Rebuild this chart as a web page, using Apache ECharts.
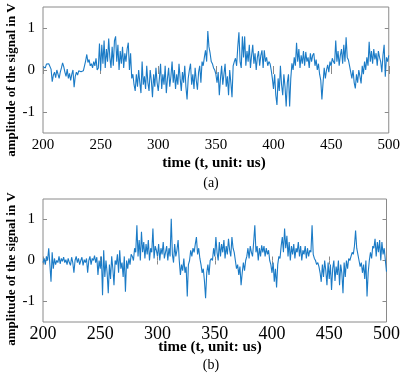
<!DOCTYPE html>
<html>
<head>
<meta charset="utf-8">
<script src="https://cdn.jsdelivr.net/npm/echarts@6/dist/echarts.min.js"></script>
<style>
  html, body { margin: 0; padding: 0; background: #fff; }
  #chart { width: 403px; height: 374px; }
</style>
</head>
<body>
<div id="chart"></div>
<script>
// time axis: 200..500 us, one sample per us
const tStart = 200;
const xTicks = [200, 250, 300, 350, 400, 450, 500];
const yTicks = [-1, 0, 1];

// signal (a)
const signalA = [
  0.08, 0.12, 0.05, 0.14, 0.1, 0.15, 0.12, 0.02, -0.28, -0.12,
  -0.05, -0.18, 0.0, -0.1, -0.2, -0.05, 0.05, 0.17, 0.08, -0.05,
  -0.15, 0.02, -0.2, -0.08, -0.25, -0.1, 0.0, -0.41, -0.15, -0.05,
  -0.12, -0.02, -0.05, -0.04, -0.06, -0.02, 0.1, 0.22, 0.37, 0.18,
  0.25, 0.1, 0.15, 0.05, 0.2, 0.1, 0.28, 0.0, 0.05, 0.63,
  -0.02, 0.6, 0.15, 0.7, 0.05, 0.5, 0.2, 0.75, 0.3, 0.05,
  0.55, 0.1, 0.7, 0.8, 0.2, 0.6, 0.0, 0.45, 0.15, 0.55,
  0.05, 0.4, 0.2, 0.5, 0.65, 0.0, 0.4, -0.2, -0.1, -0.35,
  -0.5, -0.1, -0.4, 0.0, -0.3, -0.55, 0.2, -0.35, -0.15, -0.45,
  0.1, -0.3, -0.5, 0.0, -0.25, -0.65, -0.1, -0.4, 0.05, -0.3,
  -0.5, -0.2, 0.15, -0.45, -0.1, -0.35, 0.1, -0.55, -0.2, 0.05,
  -0.4, -0.15, 0.2, -0.3, 0.0, -0.45, -0.1, -0.35, 0.15, -0.2,
  -0.5, -0.05, -0.3, 0.1, -0.4, -0.7, -0.2, 0.0, 0.15, -0.35,
  -0.1, -0.45, 0.05, -0.25, -0.47, -0.05, 0.1, -0.3, 0.2, 0.1,
  0.3, 0.47, 0.2, 0.93, 0.55, 0.4, 0.2, 0.15, 0.05, 0.0,
  -0.1, -0.3, -0.05, -0.6, -0.2, 0.1, -0.35, -0.1, 0.15, -0.4,
  -0.15, -0.6, 0.0, -0.3, -0.65, 0.1, 0.2, 0.28, 0.1, 0.55,
  0.9, 0.2, 0.05, 0.8, 0.3, 0.8, 0.1, 0.45, 0.2, 0.6,
  0.05, 0.35, 0.6, 0.15, 0.4, 0.0, 0.3, 0.45, 0.1, 0.35,
  0.47, 0.05, 0.47, 0.2, 0.3, 0.1, 0.2, 0.15, 0.0, -0.2,
  -0.45, -0.1, -0.6, -0.83, -0.2, -0.5, 0.1, -0.35, -0.6, -0.1,
  -0.4, -0.87, -0.3, -0.1, -0.87, -0.2, 0.16, 0.0, 0.3, 0.1,
  0.65, 0.2, 0.5, 0.05, 0.35, 0.15, 0.45, 0.1, 0.43, 0.2,
  0.3, 0.05, 0.4, 0.2, 0.35, 0.4, 0.1, 0.25, 0.0, 0.15,
  -0.1, -0.24, -0.7, -0.3, 0.05, -0.2, 0.0, 0.12, -0.05, 0.2,
  0.1, 0.28, 0.2, 0.15, 0.7, 0.2, 0.45, 0.1, 0.35, 0.5,
  0.15, 0.6, 0.2, 0.78, 0.3, 0.24, 0.1, -0.05, -0.2, 0.0,
  -0.3, -0.44, -0.1, -0.3, 0.0, -0.15, -0.32, 0.1, -0.1, 0.2,
  0.0, 0.3, 0.1, 0.67, 0.2, 0.45, 0.15, 0.5, 0.25, 0.4,
  0.1, 0.45, 0.3, 0.2, -0.05, 0.35, 0.6, -0.16, 0.3, 0.2,
  0.35
];

// signal (b)
const signalB = [
  -0.05, 0.05, -0.1, 0.1, 0.0, 0.3, -0.1, -0.52, 0.2, -0.2,
  0.05, -0.1, 0.0, -0.05, 0.1, -0.08, 0.05, -0.02, 0.08, -0.05,
  0.02, -0.1, 0.05, -0.05, -0.12, 0.08, -0.05, -0.3, 0.0, 0.1,
  -0.05, 0.05, -0.1, 0.0, 0.08, -0.12, 0.02, -0.05, 0.05, -0.3,
  0.0, 0.1, -0.1, 0.05, 0.0, 0.12, -0.05, 0.08, -0.35, 0.0,
  -0.2, 0.1, -0.85, 0.25, -0.4, 0.0, -0.3, -0.8, -0.1, -0.45,
  0.1, -0.2, -0.6, 0.0, -0.1, 0.15, -0.3, 0.25, -0.2, -0.05,
  -0.4, 0.1, -0.76, 0.0, -0.2, 0.05, -0.1, 0.15, 0.1, 0.0,
  0.3, 0.2, 0.86, 0.1, 0.5, 0.0, 0.7, 0.2, 0.45, 0.05,
  0.4, 0.15, 0.5, 0.0, 0.3, 0.2, 0.78, 0.05, 0.35, 0.25,
  0.1, 0.4, 0.0, 0.3, 0.15, 0.45, 0.05, 0.2, 0.35, 0.0,
  0.3, 0.1, 1.02, 0.15, -0.05, 0.4, 0.1, 0.25, 0.5, 0.0,
  -0.35, -0.1, -0.25, 0.05, -0.3, -0.15, -0.88, -0.1, 0.0, 0.25,
  0.1, 0.3, 0.2, 0.4, 0.57, 0.15, 0.3, 0.05, -0.1, -0.3,
  -0.2, -0.5, -0.92, -0.3, -0.1, -0.35, 0.0, 0.05, 0.0, 0.3,
  0.1, 0.57, 0.2, 0.0, 0.45, 0.1, 0.4, 0.2, 0.5, 0.05,
  0.35, 0.15, 0.53, 0.25, 0.1, 0.57, 0.3, 0.2, 0.0, -0.2,
  -0.1, -0.35, -0.15, -0.6, -0.3, -0.05, -0.25, 0.0, 0.1, 0.3,
  0.05, 0.35, 0.2, 0.1, 0.45, 0.86, 0.2, 0.35, 0.0, 0.3,
  0.1, 0.37, 0.2, 0.35, 0.1, 0.3, 0.15, 0.25, 0.0, -0.1,
  -0.3, -0.05, -0.52, -0.2, -0.66, -0.1, 0.1, 0.05, 0.35, 0.57,
  0.2, 0.78, 0.3, 0.6, 0.1, 0.45, 0.0, 0.35, 0.15, 0.4,
  0.05, 0.3, 0.2, 0.45, 0.1, 0.35, 0.0, 0.25, 0.15, 0.35,
  0.05, 0.3, 0.1, 0.25, 0.2, 0.86, 0.15, 0.05, 0.0, -0.1,
  -0.05, -0.15, -0.3, -0.52, -0.1, -0.4, 0.0, -0.25, -0.6, -0.05,
  -0.45, -0.1, -0.72, -0.2, 0.0, -0.5, -0.15, -0.35, 0.0, -0.6,
  -0.1, -0.3, -0.8, -0.05, -0.4, 0.0, -0.2, 0.05, 0.0, 0.1,
  0.2, 0.15, 0.35, 0.73, 0.3, 0.15, 0.0, -0.15, -0.05, -0.3,
  -0.1, -0.45, 0.0, -0.88, -0.3, 0.0, 0.2, 0.05, 0.35, 0.3,
  0.53, 0.1, 0.45, 0.2, 0.5, 0.0, 0.45, 0.15, 0.3, 0.0,
  -0.27
];

const chart = echarts.init(document.getElementById('chart'));

const serif = '"Liberation Serif", "DejaVu Serif", serif';
const frame = '#8a8a8a';
const lineColor = '#1b7bc6';

function pairs(arr) {
  return arr.map((v, i) => [tStart + i, v]);
}

function xAxes(gridIndex, fontSize, margin) {
  return [{
    gridIndex: gridIndex,
    type: 'value',
    min: 200,
    max: 500,
    interval: 50,
    position: 'bottom',
    axisLine: { show: false },
    axisTick: { show: true, inside: true, length: 4, lineStyle: { color: frame } },
    axisLabel: { show: true, margin: margin, fontFamily: serif, fontSize: fontSize, color: '#000',
      customValues: xTicks },
    splitLine: { show: false }
  }, {
    gridIndex: gridIndex,
    type: 'value',
    min: 200,
    max: 500,
    interval: 50,
    position: 'top',
    axisLine: { show: false },
    axisTick: { show: true, inside: true, length: 4, lineStyle: { color: frame } },
    axisLabel: { show: false },
    splitLine: { show: false }
  }];
}

function yAxes(gridIndex) {
  return [{
    gridIndex: gridIndex,
    type: 'value',
    min: -1.5,
    max: 1.5,
    position: 'left',
    axisLine: { show: false },
    axisTick: { show: true, inside: true, length: 4, lineStyle: { color: frame }, customValues: yTicks },
    axisLabel: { show: true, margin: 8, fontFamily: serif, fontSize: 15, color: '#000', customValues: yTicks },
    splitLine: { show: false }
  }, {
    gridIndex: gridIndex,
    type: 'value',
    min: -1.5,
    max: 1.5,
    position: 'right',
    axisLine: { show: false },
    axisTick: { show: true, inside: true, length: 4, lineStyle: { color: frame }, customValues: yTicks },
    axisLabel: { show: false },
    splitLine: { show: false }
  }];
}

function textEl(text, x, y, size, weight, rotate) {
  return {
    type: 'text',
    x: x,
    y: y,
    rotation: rotate ? Math.PI / 2 : 0,
    style: {
      text: text,
      fontFamily: serif,
      fontSize: size,
      fontWeight: weight,
      fill: '#000',
      align: 'center',
      verticalAlign: 'middle'
    }
  };
}

const option = {
  animation: false,
  grid: [
    { left: 43, top: 7, width: 347, height: 126, show: true, borderColor: frame, borderWidth: 1, backgroundColor: '#fff' },
    { left: 43, top: 199, width: 347, height: 123, show: true, borderColor: frame, borderWidth: 1, backgroundColor: '#fff' }
  ],
  xAxis: xAxes(0, 15, 5).concat(xAxes(1, 18, 3)),
  yAxis: yAxes(0).concat(yAxes(1)),
  series: [{
    type: 'line',
    xAxisIndex: 0,
    yAxisIndex: 0,
    data: pairs(signalA),
    showSymbol: false,
    lineStyle: { color: lineColor, width: 1.1 }
  }, {
    type: 'line',
    xAxisIndex: 2,
    yAxisIndex: 2,
    data: pairs(signalB),
    showSymbol: false,
    lineStyle: { color: lineColor, width: 1.1 }
  }],
  graphic: [
    textEl('amplitude of the signal in V', 12, 80, 13, 'bold', true),
    textEl('time (t, unit: us)', 214, 163, 15, 'bold', false),
    textEl('(a)', 211, 183, 14, 'normal', false),
    textEl('amplitude of the signal in V', 12, 269, 13, 'bold', true),
    textEl('time (t, unit: us)', 210, 347, 15, 'bold', false),
    textEl('(b)', 211, 365, 14, 'normal', false)
  ]
};

chart.setOption(option);
</script>
</body>
</html>
